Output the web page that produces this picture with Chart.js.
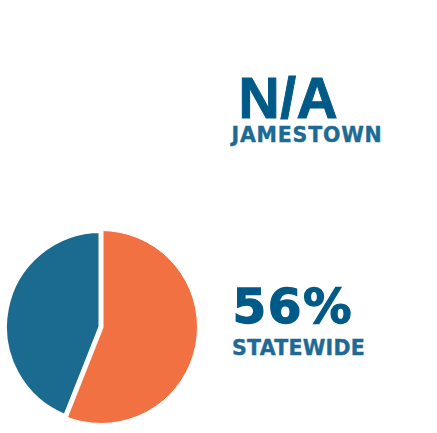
<!DOCTYPE html>
<html>
<head>
<meta charset="utf-8">
<script src="https://cdn.jsdelivr.net/npm/chart.js@4/dist/chart.umd.min.js"></script>
<style>
  html, body { margin: 0; padding: 0; background: #ffffff; }
  body { width: 437px; height: 433px; position: relative; overflow: hidden; }
  #pieBox { position: absolute; left: 2px; top: 228px; width: 198px; height: 198px; }
  .big { position: absolute; font-weight: bold; color: #005a87; line-height: 1; white-space: nowrap; -webkit-text-stroke: 1px #005a87; }
  .lab { position: absolute; font-family: "DejaVu Sans", sans-serif; font-weight: bold; font-size: 20.5px; color: #1d6a95; line-height: 1; white-space: nowrap; -webkit-text-stroke: 0.4px #1d6a95; }
</style>
</head>
<body>
<div id="pieBox"><canvas id="pie"></canvas></div>
<div class="big" id="jValue" style="left:238.5px; top:70px; font-family:'Liberation Sans', Arial, sans-serif; font-size:57px; letter-spacing:0.5px;"></div>
<div class="lab" id="jLabel" style="left:231.5px; top:124.5px; letter-spacing:0.8px;"></div>
<div class="big" id="sValue" style="left:232.5px; top:282px; font-family:'DejaVu Sans', sans-serif; font-size:48.5px; letter-spacing:1.5px; -webkit-text-stroke:1.3px #005a87;"></div>
<div class="lab" id="sLabel" style="left:232px; top:337.5px; letter-spacing:0.25px;"></div>
<script>
// ---- data ----
const categories = ['Yes', 'No'];
const statewideValues = [56, 44];
const sliceColors = ['#f27142', '#1b6a90'];
const jamestownText = 'N/A';
const jamestownLabel = 'JAMESTOWN';
const statewideText = '56%';
const statewideLabel = 'STATEWIDE';

document.getElementById('jValue').textContent = jamestownText;
document.getElementById('jLabel').textContent = jamestownLabel;
document.getElementById('sValue').textContent = statewideText;
document.getElementById('sLabel').textContent = statewideLabel;

new Chart(document.getElementById('pie'), {
  type: 'pie',
  data: {
    labels: categories,
    datasets: [{
      data: statewideValues,
      backgroundColor: sliceColors,
      borderColor: '#ffffff',
      borderWidth: [1, 5],
      hoverBorderWidth: [1, 5],
      hoverOffset: 0
    }]
  },
  options: {
    responsive: true,
    maintainAspectRatio: false,
    animation: false,
    layout: { padding: 0 },
    plugins: { legend: { display: false }, tooltip: { enabled: false } }
  }
});
</script>
</body>
</html>
